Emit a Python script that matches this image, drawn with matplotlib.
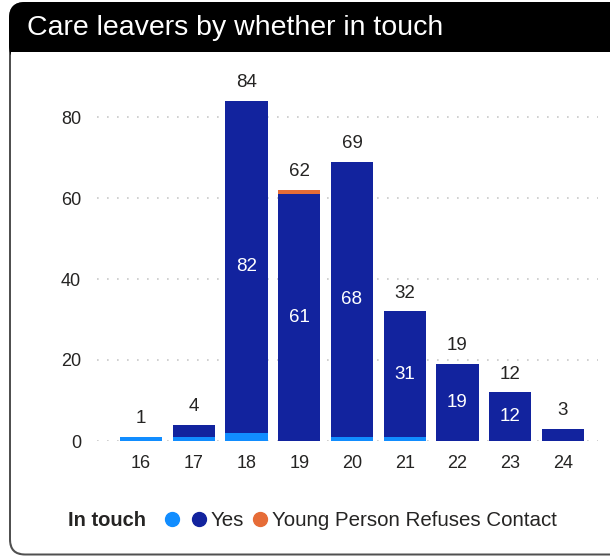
import matplotlib
matplotlib.use("Agg")
import matplotlib.pyplot as plt
from matplotlib.patches import FancyBboxPatch, Rectangle
from matplotlib.lines import Line2D

plt.rcParams['font.family'] = ['Liberation Sans', 'DejaVu Sans']

ages = ['16', '17', '18', '19', '20', '21', '22', '23', '24']
blank = [1, 1, 2, 0, 1, 1, 0, 0, 0]
yes = [0, 3, 82, 61, 68, 31, 19, 12, 3]
refuses = [0, 0, 0, 1, 0, 0, 0, 0, 0]
series_labels = ['', 'Yes', 'Young Person Refuses Contact']
colors = ['#118DFF', '#12239E', '#E66C37']
yticks = [0, 20, 40, 60, 80]

W, H = 610, 557
fig = plt.figure(figsize=(W / 100, H / 100), dpi=100)


def box(x0, y0, x1, y1, color, r, z):
    """Box in pixel coords (y from top)."""
    if r > 0:
        p = FancyBboxPatch((x0 / W, 1 - y1 / H), (x1 - x0) / W, (y1 - y0) / H,
                           boxstyle=f"round,pad=0,rounding_size={r / W}",
                           transform=fig.transFigure, facecolor=color,
                           edgecolor='none', lw=0, mutation_aspect=W / H, zorder=z)
    else:
        p = Rectangle((x0 / W, 1 - y1 / H), (x1 - x0) / W, (y1 - y0) / H,
                      transform=fig.transFigure, facecolor=color,
                      edgecolor='none', lw=0, zorder=z)
    fig.patches.append(p)


box(9, 2, 640, 555.5, '#505050', 16, -5)
box(9, 2, 640, 62, 'black', 16, -4)
box(11, 52, 640, 553.5, 'white', 14, -3)
box(11, 52, 640, 75, 'white', 0, -2)

fig.text(27 / W, 1 - 28 / H, 'Care leavers by whether in touch', color='white',
         fontsize=20.5, va='center', ha='left')

xl, xr = -0.834, 8.66
ppu = 52.75
ax = fig.add_axes([97 / W, (H - 441) / H, (xr - xl) * ppu / W, 88 * 4.05 / H])
ax.set_zorder(5)
ax.patch.set_alpha(0)
x = list(range(len(ages)))
bottoms = [0] * len(ages)
for vals, c in zip([blank, yes, refuses], colors):
    ax.bar(x, vals, 0.8, bottom=bottoms, color=c, zorder=3)
    bottoms = [b + v for b, v in zip(bottoms, vals)]

totals = bottoms
for i, t in enumerate(totals):
    ax.annotate(str(t), (i, t), xytext=(0, 7), textcoords='offset points',
                ha='center', va='bottom', fontsize=13.5, color='#252423')
for i, v in enumerate(yes):
    if v >= 10:
        ax.text(i, blank[i] + v / 2, str(v), ha='center', va='center',
                fontsize=13.5, color='white', zorder=4)

ax.set_xlim(xl, xr)
ax.set_ylim(0, 88)
ax.set_xticks(x)
ax.set_xticklabels(ages)
ax.set_yticks(yticks)
ax.tick_params(axis='both', length=0, labelsize=13, colors='#252423')
ax.tick_params(axis='y', pad=11.5)
ax.tick_params(axis='x', pad=10)
for s in ax.spines.values():
    s.set_visible(False)
ax.yaxis.grid(True, color='#c8c8c8', linestyle=(0, (1, 5)), lw=1.2, zorder=0)
ax.set_axisbelow(True)

# legend
fig.text(68 / W, 1 - 521 / H, 'In touch', fontsize=14.5, fontweight='bold',
         va='center', ha='left', color='#252423')
handles = [Line2D([], [], marker='o', ls='', color=c, markersize=10) for c in colors]
leg = fig.legend(handles, series_labels, loc='center left',
                 bbox_to_anchor=(151 / W, 1 - 521 / H), ncol=3, frameon=False,
                 fontsize=14.8, handletextpad=0.05, columnspacing=0.3,
                 handlelength=1.0, borderpad=0)
for t in leg.get_texts():
    t.set_color('#252423')

fig.savefig('out.png', dpi=100)
